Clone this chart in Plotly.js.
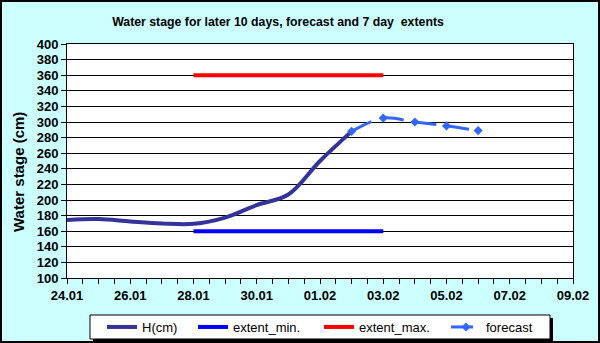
<!DOCTYPE html>
<html>
<head>
<meta charset="utf-8">
<script src="https://cdn.plot.ly/plotly-3.0.1.min.js"></script>
<style>html,body{margin:0;padding:0;background:#CCFFFF;}#chart{width:600px;height:343px;}</style>
</head>
<body>
<div id="chart"></div>
<script>
// ---- data ----
const hDates = ['2011-01-24','2011-01-25','2011-01-26','2011-01-27','2011-01-28','2011-01-29','2011-01-30','2011-01-31','2011-02-01','2011-02-02'];
const hValues = [174.5, 175.5, 172.5, 170, 169.5, 177.5, 193.5, 207, 250, 288];
const extentDates = ['2011-01-28','2011-02-03'];
const extentMin = [160, 160];
const extentMax = [360, 360];
const forecastDates = ['2011-02-02','2011-02-03','2011-02-04','2011-02-05','2011-02-06'];
const forecastValues = [288, 305, 300, 295, 289];
const xRange = ['2011-01-24','2011-02-09'];
const titleText = 'Water stage for later 10 days, forecast and 7 day  extents';
const yTitleText = 'Water stage (cm)';

// ---- geometry helpers ----
const W = 600, H = 343, ML = 67, MR = 27, MT = 44, MB = 65;
const PW = W - ML - MR, PH = H - MT - MB;
const px = x => (x - ML) / PW;
const py = y => 1 - (y - MT) / PH;

const FONT = 'Liberation Sans, Arial, sans-serif';

const traces = [
  {x: hDates, y: hValues, name: 'H(cm)', mode: 'lines', type: 'scatter',
   line: {color: '#333399', width: 4, shape: 'spline', smoothing: 1}, legend: 'legend'},
  {x: extentDates, y: extentMin, name: 'extent_min.', mode: 'lines', type: 'scatter',
   line: {color: '#0000FF', width: 4}, legend: 'legend2'},
  {x: extentDates, y: extentMax, name: 'extent_max.', mode: 'lines', type: 'scatter',
   line: {color: '#FF0000', width: 4}, legend: 'legend3'},
  {x: forecastDates, y: forecastValues, name: 'forecast', mode: 'lines+markers', type: 'scatter',
   line: {color: '#3366FF', width: 3, dash: '22px,11px', shape: 'spline', smoothing: 1},
   marker: {symbol: 'diamond', size: 7, color: '#3366FF'}, legend: 'legend4'}
];

const legendY = py(327);
function leg(xpx) {
  return {x: px(xpx), y: legendY, xanchor: 'left', yanchor: 'middle', bgcolor: 'rgba(0,0,0,0)',
          borderwidth: 0, orientation: 'h', font: {family: FONT, size: 13, color: '#000'}};
}

const layout = {
  width: W, height: H,
  margin: {l: ML, r: MR, t: MT, b: MB, autoexpand: false},
  paper_bgcolor: '#CCFFFF',
  plot_bgcolor: '#FFFFFF',
  showlegend: true,
  title: {text: titleText, x: 278 / W, xref: 'container', xanchor: 'center',
          y: 1 - 22 / H, yref: 'container', yanchor: 'middle', automargin: false,
          font: {family: FONT, size: 12.3, color: '#000', weight: 'bold'}},
  xaxis: {
    type: 'date', range: xRange, tickformat: '%d.%m', dtick: 2 * 86400000, tick0: xRange[0],
    ticks: 'outside', ticklen: 5, tickcolor: '#000', showgrid: false, zeroline: false,
    showline: true, linecolor: '#000', linewidth: 1, mirror: true, automargin: false,
    tickfont: {family: FONT, size: 13, color: '#000', weight: 'bold'},
    minor: {dtick: 43200000, ticks: 'outside', ticklen: 5, tickcolor: '#000', showgrid: false}
  },
  yaxis: {
    range: [100, 400], dtick: 20, tick0: 100,
    ticks: 'outside', ticklen: 5, tickcolor: '#000', automargin: false,
    showgrid: true, gridcolor: '#000', gridwidth: 1, zeroline: false,
    showline: true, linecolor: '#000', linewidth: 1, mirror: true,
    tickfont: {family: FONT, size: 13, color: '#000', weight: 'bold'}
  },
  legend: leg(102),
  legend2: leg(193),
  legend3: leg(319),
  legend4: leg(446),
  annotations: [
    {text: yTitleText, xref: 'paper', yref: 'paper', x: px(18), y: py(172), textangle: -90,
     showarrow: false, xanchor: 'center', yanchor: 'middle',
     font: {family: FONT, size: 15, color: '#000', weight: 'bold'}}
  ],
  shapes: [
    {type: 'rect', xref: 'paper', yref: 'paper', x0: px(93), x1: px(553), y0: py(318), y1: py(342),
     fillcolor: '#000', line: {width: 0}},
    {type: 'rect', xref: 'paper', yref: 'paper', x0: px(90), x1: px(550), y0: py(315), y1: py(339),
     fillcolor: '#FFF', line: {color: '#000', width: 1}},
    {type: 'rect', xref: 'paper', yref: 'paper', x0: px(1), x1: px(599), y0: py(1), y1: py(342),
     fillcolor: 'rgba(0,0,0,0)', line: {color: '#000', width: 2}}
  ]
};

Plotly.newPlot('chart', traces, layout, {staticPlot: true, displayModeBar: false});
</script>
</body>
</html>
